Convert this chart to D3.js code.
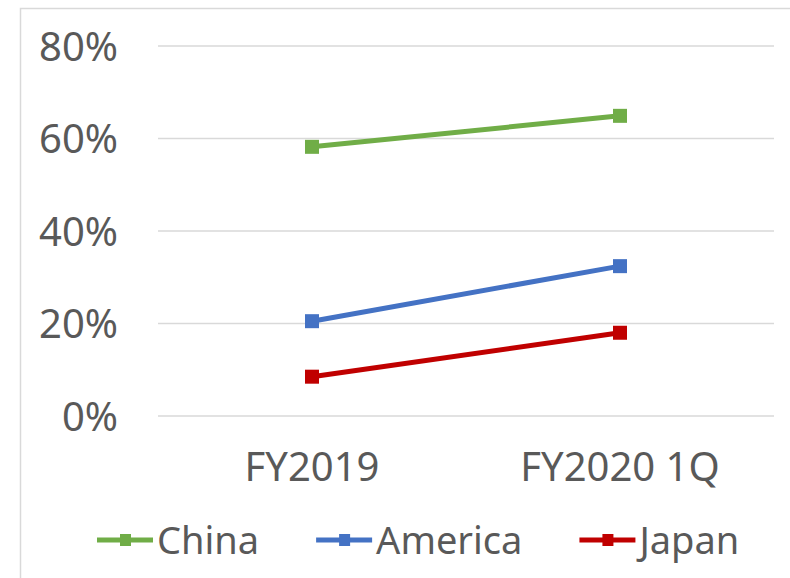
<!DOCTYPE html>
<html>
<head>
<meta charset="utf-8">
<script src="https://cdn.jsdelivr.net/npm/d3@7"></script>
<style>
  body { margin: 0; background: #fff; }
  text { font-family: "Noto Sans", sans-serif; fill: #595959; }
</style>
</head>
<body>
<script>
// Datos
const categories = ["FY2019", "FY2020 1Q"];
const seriesNames = ["China", "America", "Japan"];
const china = [58.2, 64.9];
const america = [20.5, 32.4];
const japan = [8.5, 18.0];
const yTicks = [0, 20, 40, 60, 80];

const colors = ["#70ad47", "#4472c4", "#c00000"];
const series = [china, america, japan].map((vals, i) => ({
    name: seriesNames[i],
    color: colors[i],
    values: vals.map((v, j) => ({cat: categories[j], value: v}))
}));

var width = 790, height = 578;
var plot = {left: 158, right: 774, top: 46, bottom: 416};
var font = "Noto Sans, sans-serif";

var svg = d3.select("body").append("svg")
    .attr("width", width)
    .attr("height", height);

// Borde del gráfico
svg.append("path")
    .attr("d", `M20.5,${height} V8.5 H${width}`)
    .attr("fill", "none")
    .attr("stroke", "#d9d9d9")
    .attr("stroke-width", 1.5);

const x = d3.scaleBand()
    .domain(categories)
    .range([plot.left, plot.right]);

const y = d3.scaleLinear()
    .domain([0, 80])
    .range([plot.bottom, plot.top]);

// Líneas de guía
svg.selectAll("line.grid")
    .data(yTicks)
    .enter()
    .append("line")
    .attr("class", "grid")
    .attr("x1", plot.left)
    .attr("x2", plot.right)
    .attr("y1", d => y(d))
    .attr("y2", d => y(d))
    .attr("stroke", "#d9d9d9")
    .attr("stroke-width", 1.5);

// Eje Y
var yAxis = svg.append("g")
    .attr("transform", `translate(${plot.left - 40}, 0)`)
    .call(d3.axisLeft(y).tickValues(yTicks).tickFormat(d => d + "%").tickSize(0).tickPadding(0));
yAxis.select(".domain").remove();
yAxis.selectAll("text")
    .style("font-size", "40px")
    .style("fill", "#595959")
    .style("font-family", font)
    .attr("dy", "0.36em");

// Eje X
var xAxis = svg.append("g")
    .attr("transform", `translate(0, ${plot.bottom})`)
    .call(d3.axisBottom(x).tickSize(0).tickPadding(0));
xAxis.select(".domain").remove();
xAxis.selectAll("text")
    .style("font-size", "40px")
    .style("fill", "#595959")
    .style("font-family", font)
    .attr("dy", "0")
    .attr("y", 65);

// Líneas
const line = d3.line()
    .x(d => x(d.cat) + x.bandwidth() / 2)
    .y(d => y(d.value));

series.forEach(s => {
    svg.append("path")
        .datum(s.values)
        .attr("d", line)
        .attr("fill", "none")
        .attr("stroke", s.color)
        .attr("stroke-width", 5);

    svg.selectAll(null)
        .data(s.values)
        .enter()
        .append("rect")
        .attr("x", d => x(d.cat) + x.bandwidth() / 2 - 7)
        .attr("y", d => y(d.value) - 7)
        .attr("width", 14)
        .attr("height", 14)
        .attr("fill", s.color);
});

// Leyenda
var legend = svg.append("g").attr("transform", "translate(97, 540)");
var lx = 0;
series.forEach(s => {
    const item = legend.append("g").attr("transform", `translate(${lx}, 0)`);
    item.append("line")
        .attr("x1", 0).attr("x2", 56)
        .attr("stroke", s.color)
        .attr("stroke-width", 5);
    item.append("rect")
        .attr("x", 23).attr("y", -6)
        .attr("width", 11).attr("height", 12)
        .attr("fill", s.color);
    const t = item.append("text")
        .attr("x", 60)
        .attr("dy", "0.36em")
        .style("font-size", "38px")
        .text(s.name);
    lx += 60 + t.node().getComputedTextLength() + 57;
});
</script>
</body>
</html>
